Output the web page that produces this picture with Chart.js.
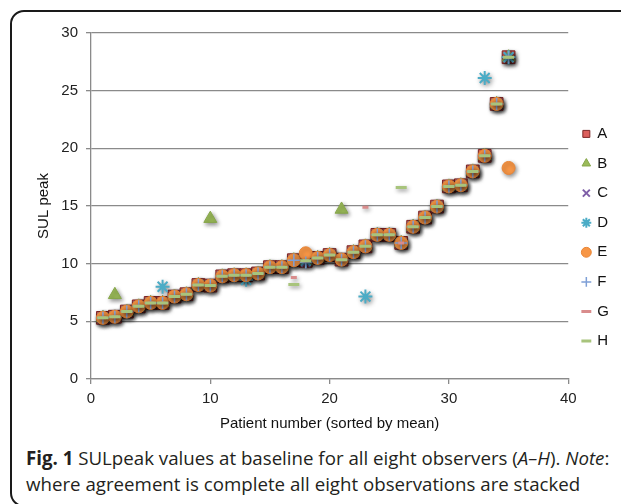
<!DOCTYPE html>
<html><head><meta charset="utf-8">
<script src="https://cdn.jsdelivr.net/npm/chart.js@4"></script>
<style>
html,body{margin:0;padding:0;background:#fff;overflow:hidden;width:621px;height:504px;}
#frame{position:absolute;left:10px;top:10px;width:700px;height:493px;border:2px solid #1a1a1a;border-radius:14px;}
#wrap{position:absolute;left:0;top:0;width:621px;height:442px;}
#cap{position:absolute;left:26px;top:445px;font-family:'Open Sans';font-size:18.7px;line-height:26px;color:#231f20;white-space:nowrap;}
</style></head>
<body>
<div id="frame"></div>
<div id="wrap"><canvas id="c" width="621" height="442"></canvas></div>
<div id="cap"><b>Fig. 1</b> SULpeak values at baseline for all eight observers (<i>A–H</i>). <i>Note</i>:<br>where agreement is complete all eight observations are stacked</div>
<script>
const patients = [1,2,3,4,5,6,7,8,9,10,11,12,13,14,15,16,17,18,19,20,21,22,23,24,25,26,27,28,29,30,31,32,33,34,35];
const obsA = [5.3,5.4,5.85,6.3,6.6,6.6,7.15,7.35,8.15,8.1,8.9,9.0,9.0,9.15,9.7,9.7,10.3,10.25,10.5,10.75,10.35,11.0,11.5,12.5,12.5,11.8,13.2,14.0,14.95,16.7,16.8,18.0,19.35,23.85,27.9];
const obsB = [5.3,7.3,5.85,6.3,6.6,6.6,7.15,7.35,8.15,13.9,8.9,9.0,9.0,9.15,9.7,9.7,10.3,10.25,10.5,10.75,14.7,11.0,11.5,12.5,12.5,11.8,13.2,14.0,14.95,16.7,16.8,18.0,19.35,23.85,27.9];
const obsC = [5.3,5.4,5.85,6.3,6.6,6.6,7.15,7.35,8.15,8.1,8.9,9.0,9.0,9.15,9.7,9.7,10.3,10.1,10.5,10.75,10.35,11.0,11.5,12.5,12.5,11.8,13.2,14.0,14.95,16.7,16.8,18.0,19.35,23.85,27.9];
const obsD = [5.3,5.4,5.85,6.3,6.6,8.0,7.15,7.35,8.15,8.1,8.9,9.0,8.6,9.15,9.7,9.7,10.3,10.25,10.5,10.75,10.35,11.0,7.15,12.5,12.5,11.8,13.2,14.0,14.95,16.7,16.8,18.0,26.1,23.85,27.9];
const obsE = [5.3,5.4,5.85,6.3,6.6,6.6,7.15,7.35,8.15,8.1,8.9,9.0,9.0,9.15,9.7,9.7,10.3,10.9,10.5,10.75,10.35,11.0,11.5,12.5,12.5,11.8,13.2,14.0,14.95,16.7,16.8,18.0,19.35,23.85,18.3];
const obsF = [5.3,5.4,5.85,6.3,6.6,6.6,7.15,7.35,8.15,8.1,8.9,9.0,9.0,9.15,9.7,9.7,10.3,10.1,10.5,10.75,10.35,11.0,11.5,12.5,12.5,11.8,13.2,14.0,14.95,16.7,16.8,18.0,19.35,23.85,27.9];
const obsG = [5.3,5.4,5.85,6.3,6.6,6.6,7.15,7.35,8.15,8.1,8.9,9.0,9.0,9.15,9.7,9.7,8.8,10.25,10.5,10.75,10.35,11.0,14.9,12.5,12.5,11.8,13.2,14.0,14.95,16.7,16.8,18.0,19.35,23.85,27.9];
const obsH = [5.3,5.4,5.85,6.3,6.6,6.6,7.15,7.35,8.15,8.1,8.9,9.0,9.0,9.15,9.7,9.7,8.2,10.25,10.5,10.75,10.35,11.0,11.5,12.5,12.5,16.6,13.2,14.0,14.95,16.7,16.8,18.0,19.35,23.85,27.9];
const observerNames = ['A','B','C','D','E','F','G','H'];
const xTicks = [0,10,20,30,40];
const yTicks = [0,5,10,15,20,25,30];

const series = [obsA,obsB,obsC,obsD,obsE,obsF,obsG,obsH];
const styles = [
  {pointStyle:'rect', pointRadius:9, backgroundColor:'#DC5F5C', borderColor:'#7E2828', borderWidth:1},
  {pointStyle:'triangle', pointRadius:7.5, backgroundColor:'#9BBB59', borderColor:'#86A64A', borderWidth:1},
  {pointStyle:'crossRot', pointRadius:6, backgroundColor:'#7F5FA8', borderColor:'#7F5FA8', borderWidth:2},
  {pointStyle:'star', pointRadius:7, backgroundColor:'#4BACC6', borderColor:'#4BACC6', borderWidth:2},
  {pointStyle:'circle', pointRadius:6.5, backgroundColor:'#F79646', borderColor:'#E98535', borderWidth:1},
  {pointStyle:'cross', pointRadius:6, backgroundColor:'#7E9FD6', borderColor:'#7E9FD6', borderWidth:1.5},
  {pointStyle:'line', pointRadius:3, backgroundColor:'#D98C8C', borderColor:'#D98C8C', borderWidth:3},
  {pointStyle:'line', pointRadius:5.5, backgroundColor:'#A8C47C', borderColor:'#A8C47C', borderWidth:3}
];
const datasets = observerNames.map((name,i)=>Object.assign({
  label:name,
  data: patients.map((p,j)=>({x:p,y:series[i][j]})),
  order: observerNames.length - i,
  pointHoverRadius: styles[i].pointRadius
}, styles[i]));

const shadowPlugin = {
  id:'shadow',
  beforeDatasetsDraw(chart){const c=chart.ctx;c.save();c.shadowColor='rgba(0,0,0,0.45)';c.shadowBlur=4;c.shadowOffsetX=1.5;c.shadowOffsetY=2;},
  afterDatasetsDraw(chart){chart.ctx.restore();}
};

const fam = "'Liberation Sans', Arial, sans-serif";
const tickFont = {family:fam, size:15};
const gridCol = '#8a8a8a';
new Chart(document.getElementById('c'), {
  type:'scatter',
  data:{datasets},
  plugins:[shadowPlugin],
  options:{
    responsive:false, animation:false,
    layout:{padding:{top:33,right:2,left:0,bottom:0}},
    plugins:{
      tooltip:{enabled:false},
      legend:{position:'right', align:'center',
        labels:{usePointStyle:true, boxWidth:7, boxHeight:7, padding:14.6, color:'#111', font:{family:fam,size:15},
          sort:(a,b)=>a.datasetIndex-b.datasetIndex}}
    },
    scales:{
      x:{type:'linear', min:0, max:40,
        afterBuildTicks:s=>{s.ticks=xTicks.map(v=>({value:v}));},
        afterFit:s=>{s.height=63;},
        ticks:{color:'#222', font:tickFont, padding:6},
        grid:{drawOnChartArea:false, drawTicks:true, tickLength:5, color:gridCol, lineWidth:1.3},
        border:{display:true, color:gridCol, width:1.3},
        title:{display:true, text:'Patient number (sorted by mean)', color:'#111', font:{family:fam, size:15}, padding:{top:4,bottom:9.5}}
      },
      y:{min:0, max:30,
        afterBuildTicks:s=>{s.ticks=yTicks.map(v=>({value:v}));},
        afterFit:s=>{s.width=91;},
        ticks:{color:'#222', font:tickFont, padding:8},
        grid:{color:gridCol, lineWidth:1.3, tickLength:5},
        border:{display:true, color:gridCol, width:1.3},
        title:{display:true, text:'SUL peak', color:'#111', font:{family:fam, size:15}, padding:{top:35,bottom:0}}
      }
    }
  }
});
</script>
</body></html>
